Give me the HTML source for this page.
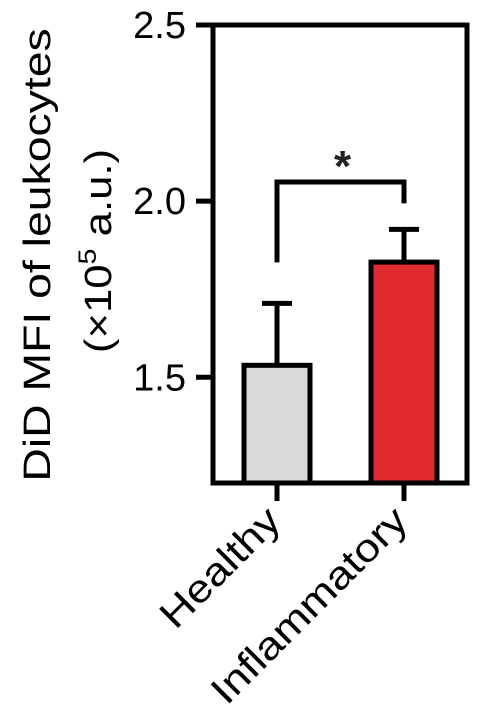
<!DOCTYPE html>
<html><head><meta charset="utf-8"><style>
html,body{margin:0;padding:0;background:#fff;}
svg{display:block;font-family:"Liberation Sans",Arial,sans-serif;}
</style></head><body>
<svg id="chart" width="486" height="718" viewBox="0 0 486 718">
<g id="plot"></g>
</svg>
<script>
const categories = ["Healthy", "Inflammatory"];
const means = [1.534, 1.827];
const errors = [0.176, 0.093];
const colors = ["#d9d9d9", "#e12a2e"];
const yTicks = [1.5, 2.0, 2.5];
const yTickLabels = ["1.5", "2.0", "2.5"];
const yMin = 1.2, yMax = 2.5;
const sig = ["*"];

const NS = "http://www.w3.org/2000/svg";
const L = 213, R = 467, T = 25, B = 483;
const y = v => B - (v - yMin) / (yMax - yMin) * (B - T);
const xc = [277, 404];
const barW = 66;
const g = document.getElementById('plot');
function mk(tag, attrs, parent) {
  const e = document.createElementNS(NS, tag);
  for (const k in attrs) e.setAttribute(k, attrs[k]);
  (parent || g).appendChild(e);
  return e;
}
categories.forEach((c, i) => {
  const top = y(means[i]);
  const eb = mk('line', {x1: xc[i], x2: xc[i], y1: top, y2: y(means[i] + errors[i]), stroke: '#000', 'stroke-width': 5});
  
  
  const cap = mk('line', {x1: xc[i] - 15, x2: xc[i] + 15, y1: y(means[i] + errors[i]), y2: y(means[i] + errors[i]), stroke: '#000', 'stroke-width': 5});
  
  
  const r = mk('rect', {x: xc[i] - barW / 2, y: top, width: barW, height: B - top, fill: colors[i], stroke: '#000', 'stroke-width': 5});
  
  
  const tk = mk('line', {x1: xc[i], x2: xc[i], y1: B, y2: B + 18, stroke: '#000', 'stroke-width': 5});
  
  
  const lx = xc[i] + 6, ly = B + 40;
  const t = mk('text', {x: 0, y: 0, 'text-anchor': 'end', 'font-size': 39, transform: `translate(${lx} ${ly}) rotate(-45) scale(1.15 1)`, fill: '#000'});
  t.textContent = c;
  
  
});
const fr = mk('rect', {x: L, y: T, width: R - L, height: B - T, fill: 'none', stroke: '#000', 'stroke-width': 5});


yTicks.forEach((v, i) => {
  const tl = mk('line', {x1: L - 17, x2: L, y1: y(v), y2: y(v), stroke: '#000', 'stroke-width': 5});
  
  
  const t = mk('text', {x: 186, y: y(v) + 13, 'text-anchor': 'end', 'font-size': 38, fill: '#000'});
  t.textContent = yTickLabels[i];
  
  
});
const b1 = y(means[0] + errors[0]) - 41, b2 = y(means[1] + errors[1]) - 26, bt = 182;
const br = mk('path', {d: `M${xc[0]} ${b1} V${bt} H${xc[1]} V${b2}`, fill: 'none', stroke: '#000', 'stroke-width': 5});


const st = mk('text', {x: (xc[0] + xc[1]) / 2 + 2, y: 181, 'text-anchor': 'middle', 'font-size': 44, 'font-weight': 'bold', fill: '#222'});
st.textContent = sig[0];


const yt = mk('text', {x: 0, y: 0, 'text-anchor': 'middle', 'font-size': 38, transform: 'translate(50 255) rotate(-90) scale(1.22 1)', fill: '#000'});
yt.textContent = 'DiD MFI of leukocytes';


const yt2 = mk('text', {x: 0, y: 0, 'text-anchor': 'middle', 'font-size': 38, transform: 'translate(111 251) rotate(-90) scale(1.15 1)', fill: '#000'});
yt2.innerHTML = '(×10<tspan font-size="25" dy="-15">5</tspan><tspan dy="15"> a.u.)</tspan>';


</script>
</body></html>
